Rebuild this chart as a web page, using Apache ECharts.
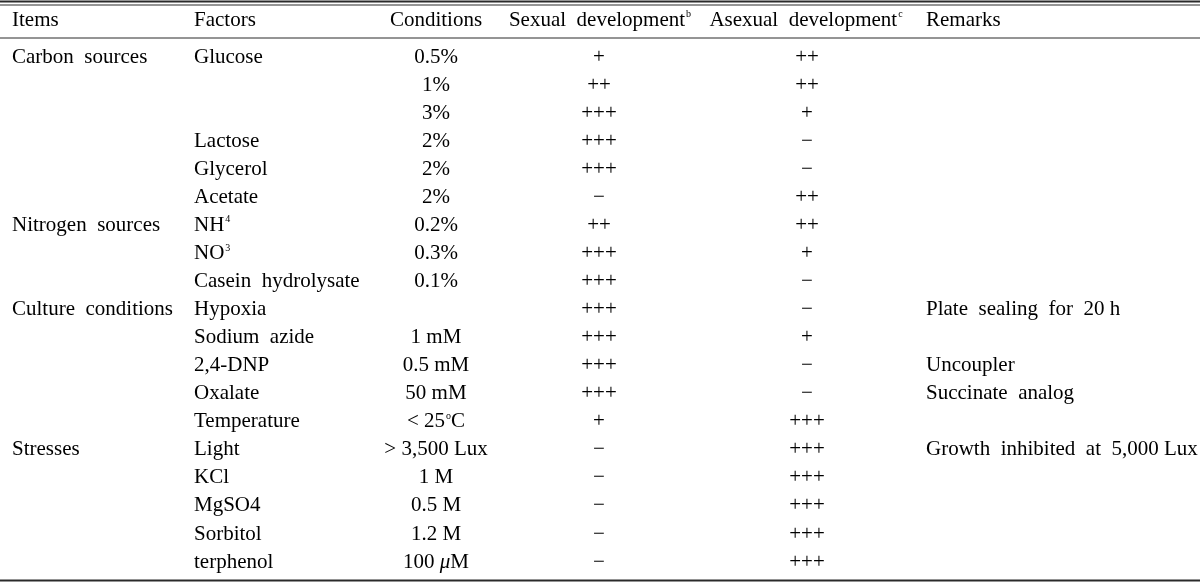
<!DOCTYPE html>
<html>
<head>
<meta charset="utf-8">
<script src="https://cdn.jsdelivr.net/npm/echarts@6/dist/echarts.min.js"></script>
<style>
html,body{margin:0;padding:0;background:#fff;}
#chart{width:1200px;height:582px;}
</style>
</head>
<body>
<div id="chart"></div>
<script>
// ---- table content ----
const headers = ["Items", "Factors", "Conditions", "Sexual  development{sup|b}", "Asexual  development{sup|c}", "Remarks"];
const items = ["Carbon  sources", "", "", "", "", "", "Nitrogen  sources", "", "", "Culture  conditions", "", "", "", "", "Stresses", "", "", "", ""];
const factors = ["Glucose", "", "", "Lactose", "Glycerol", "Acetate", "NH{sup|4}", "NO{sup|3}", "Casein  hydrolysate", "Hypoxia", "Sodium  azide", "2,4-DNP", "Oxalate", "Temperature", "Light", "KCl", "MgSO4", "Sorbitol", "terphenol"];
const conditions = ["0.5%", "1%", "3%", "2%", "2%", "2%", "0.2%", "0.3%", "0.1%", "", "1 mM", "0.5 mM", "50 mM", "< 25{sup|o}C", "> 3,500 Lux", "1 M", "0.5 M", "1.2 M", "100 {it|μ}M"];
const sexual = ["+", "++", "+++", "+++", "+++", "−", "++", "+++", "+++", "+++", "+++", "+++", "+++", "+", "−", "−", "−", "−", "−"];
const asexual = ["++", "++", "+", "−", "−", "++", "++", "+", "−", "−", "+", "−", "−", "+++", "+++", "+++", "+++", "+++", "+++"];
const remarks = ["", "", "", "", "", "", "", "", "", "Plate  sealing  for  20 h", "", "Uncoupler", "Succinate  analog", "", "Growth  inhibited  at  5,000 Lux", "", "", "", ""];

// ---- layout (not data) ----
const W = 1200, H = 582;
const ROW_TOP = 57, ROW_STEP = 28.06;          // pixel centre of first data row, row pitch
const HEADER_Y = 20;                            // pixel centre of header row
const Y_MIN = -ROW_TOP / ROW_STEP;
const Y_MAX = Y_MIN + H / ROW_STEP;
const HEADER_ROW = (HEADER_Y - ROW_TOP) / ROW_STEP;
const columns = [
  {vals: items,      x: 12,  align: 'left'},
  {vals: factors,    x: 194, align: 'left'},
  {vals: conditions, x: 436, align: 'center'},
  {vals: sexual,     x: 599, align: 'center'},
  {vals: asexual,    x: 807, align: 'center'},
  {vals: remarks,    x: 926, align: 'left'}
];
const headerCols = [
  {x: 12,  align: 'left'},
  {x: 194, align: 'left'},
  {x: 436, align: 'center'},
  {x: 600, align: 'center'},
  {x: 806, align: 'center'},
  {x: 926, align: 'left'}
];

const FONT = '"Liberation Serif", "Times New Roman", serif';
const TEXT_COLOR = '#000000';
const rich = {
  sup: {fontSize: 10, fontFamily: FONT, color: TEXT_COLOR, verticalAlign: 'top', lineHeight: 10, padding: [0, 0, 10, 1], textBorderWidth: 0},
  it: {fontSize: 21, fontFamily: FONT, fontStyle: 'italic', color: TEXT_COLOR, textBorderWidth: 0}
};

function makeSeries(points, align) {
  return {
    type: 'scatter',
    symbolSize: 0,
    silent: true,
    animation: false,
    itemStyle: {opacity: 1},
    emphasis: {disabled: true},
    data: points,
    label: {
      show: true,
      position: 'inside',
      align: align,
      verticalAlign: 'middle',
      fontFamily: FONT,
      fontSize: 21,
      color: TEXT_COLOR,
      opacity: 1,
      textBorderWidth: 0,
      textBorderColor: 'transparent',
      rich: rich,
      formatter: p => p.data.name
    }
  };
}

const series = [];
columns.forEach(col => {
  const pts = [];
  col.vals.forEach((v, i) => { if (v !== '') pts.push({value: [col.x, i], name: v}); });
  series.push(makeSeries(pts, col.align));
});
const headerSeries = makeSeries(
  headers.map((h, i) => ({value: [headerCols[i].x, HEADER_ROW], name: h, label: {align: headerCols[i].align}})),
  'left'
);
series.push(headerSeries);

const RULE = '#2a2a2a';
const rules = [
  {y: 1.5, w: 2},
  {y: 5, w: 1},
  {y: 38, w: 1},
  {y: 580.5, w: 2}
];

const chart = echarts.init(document.getElementById('chart'), null, {renderer: 'canvas'});
chart.setOption({
  backgroundColor: '#fff',
  animation: false,
  grid: {left: 0, right: 0, top: 0, bottom: 0},
  xAxis: {type: 'value', min: 0, max: W, show: false},
  yAxis: {type: 'value', inverse: true, min: Y_MIN, max: Y_MAX, show: false},
  graphic: rules.map(r => ({
    type: 'line',
    silent: true,
    shape: {x1: 0, y1: r.y, x2: W, y2: r.y},
    style: {stroke: RULE, lineWidth: r.w}
  })),
  series: series
});
</script>
</body>
</html>
